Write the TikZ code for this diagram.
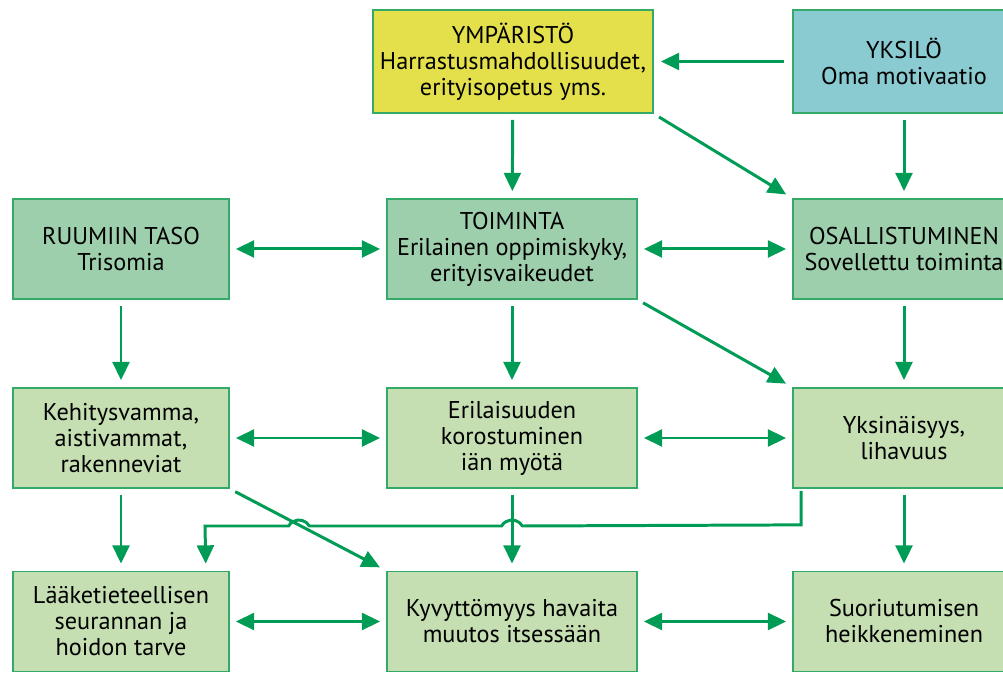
\documentclass[tikz,border=0pt]{standalone}
\usepackage{fontspec}
\setmainfont{PT Sans}
\usetikzlibrary{arrows.meta,positioning}
\definecolor{lineGreen}{RGB}{0,156,86}
\definecolor{edgeGreen}{RGB}{52,170,104}
\definecolor{envYellow}{RGB}{228,224,76}
\definecolor{indTeal}{RGB}{138,203,210}
\definecolor{midGreen}{RGB}{158,207,172}
\definecolor{lightGreen}{RGB}{197,222,178}
\begin{document}
\begin{tikzpicture}[
  x=1cm,y=1cm,
  font=\fontsize{6.9}{7.4}\selectfont,
  box/.style={draw=edgeGreen,line width=0.5pt,align=center,inner sep=0pt,minimum height=10mm},
  flow/.style={-{Triangle[length=5.2pt,width=4.8pt]},line width=0.85pt,draw=lineGreen,
    shorten <=0.06cm,shorten >=0.07cm},
  both/.style={{Triangle[length=5.2pt,width=4.8pt]}-{Triangle[length=5.2pt,width=4.8pt]},
    line width=0.85pt,draw=lineGreen,shorten <=0.06cm,shorten >=0.06cm}]
\path[use as bounding box] (0,0) rectangle (10.03,6.73);
\node[box,fill=envYellow,minimum width=28mm,minimum height=10.3mm] (ymp) at (5.13,6.115)
  {YMPÄRISTÖ\\Harrastusmahdollisuudet,\\erityisopetus yms.};
\node[box,fill=indTeal,minimum width=22.2mm,minimum height=10.3mm] (yks) at (9.04,6.115)
  {YKSILÖ\\Oma motivaatio};

\node[box,fill=midGreen,minimum width=21.6mm] (ruumis) at (1.21,4.24)
  {RUUMIIN TASO\\Trisomia};
\node[box,fill=midGreen,minimum width=25mm] (toim) at (5.12,4.24)
  {TOIMINTA\\Erilainen oppimiskyky,\\erityisvaikeudet};
\node[box,fill=midGreen,minimum width=22.2mm] (osall) at (9.04,4.24)
  {OSALLISTUMINEN\\Sovellettu toiminta};

\node[box,fill=lightGreen,minimum width=21.6mm] (kehit) at (1.21,2.35)
  {Kehitysvamma,\\aistivammat,\\rakenneviat};
\node[box,fill=lightGreen,minimum width=25mm] (erilai) at (5.12,2.35)
  {Erilaisuuden\\korostuminen\\iän myötä};
\node[box,fill=lightGreen,minimum width=22.2mm] (yksin) at (9.04,2.35)
  {Yksinäisyys,\\lihavuus};

\node[box,fill=lightGreen,minimum width=21.6mm] (laake) at (1.21,0.515)
  {Lääketieteellisen\\seurannan ja\\hoidon tarve};
\node[box,fill=lightGreen,minimum width=25mm] (kyvyt) at (5.12,0.515)
  {Kyvyttömyys havaita\\muutos itsessään};
\node[box,fill=lightGreen,minimum width=22.2mm] (suor) at (9.04,0.515)
  {Suoriutumisen\\heikkeneminen};

\draw[flow,shorten <=0.08cm] (yks.west) -- (ymp.east);
\draw[flow] (ymp) -- (toim);
\draw[flow] (yks) -- (osall);
\draw[flow] (ymp.south east) -- (osall.north west);
\draw[both] (ruumis) -- (toim);
\draw[both] (toim) -- (osall);
\draw[flow] (ruumis) -- (kehit);
\draw[flow] (toim) -- (erilai);
\draw[flow] (osall) -- (yksin);
\draw[flow] (toim.south east) -- (yksin.north west);
\draw[both] (kehit) -- (erilai);
\draw[both] (erilai) -- (yksin);
\draw[flow] (kehit) -- (laake);
\draw[flow] (erilai) -- (kyvyt);
\draw[flow] (yksin) -- (suor);
\draw[flow] (kehit.south east) -- (kyvyt.north west);
\draw[both] (laake) -- (kyvyt);
\draw[both] (kyvyt) -- (suor);
\draw[flow,shorten <=0.02cm] ([xshift=0.09cm]yksin.south west) -- ++(0,-0.36) -- (5.224,1.47)
  arc[start angle=30,end angle=150,radius=0.12] -- (3.094,1.47)
  arc[start angle=30,end angle=150,radius=0.12] -- (2.05,1.47)
  -- ([xshift=-0.24cm]laake.north east);
\end{tikzpicture}
\end{document}
